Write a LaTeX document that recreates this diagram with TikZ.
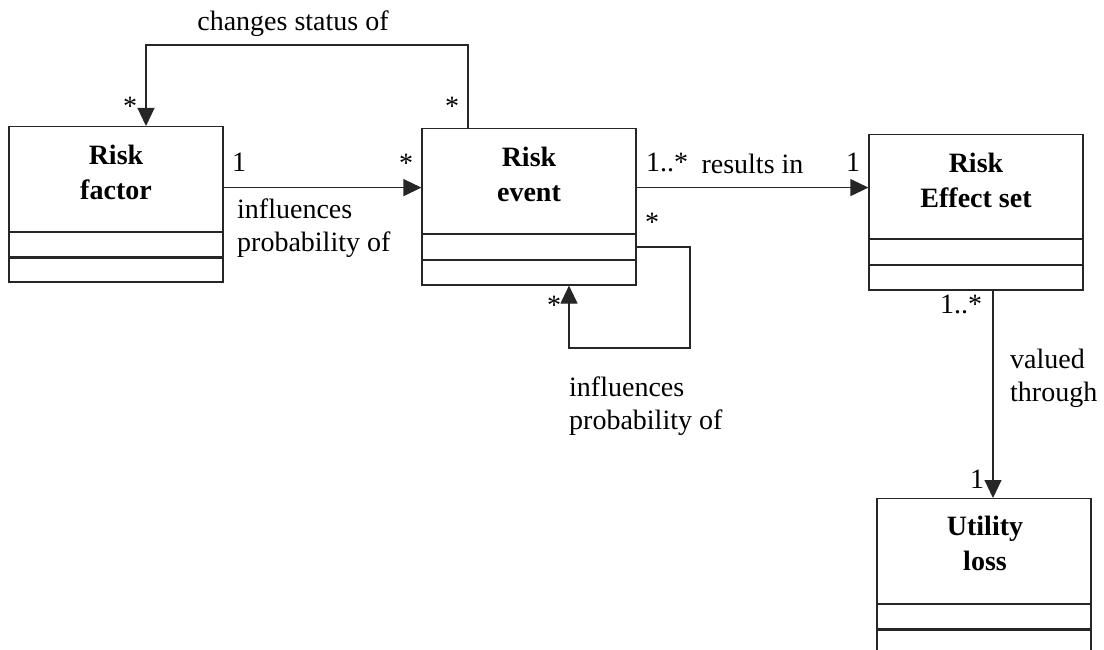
\documentclass[tikz,border=0pt]{standalone}
\usepackage{fontspec}
\setmainfont{Liberation Serif}
\usetikzlibrary{arrows.meta,calc}

\tikzset{
  cls/.style={draw=black!85, line width=1.2pt, rectangle, inner sep=0pt,
              minimum width=214pt, anchor=north},
  namebox/.style={cls, minimum height=105pt},
  compbox/.style={cls, minimum height=24pt},
  clsname/.style={font=\bfseries\fontsize{28}{35}\selectfont, align=center, inner sep=0pt},
  lbl/.style={font=\fontsize{28}{33}\selectfont, inner sep=0pt},
  mult/.style={lbl, anchor=base},
  arr/.style={draw=black!85, line width=1.2pt, -{Triangle[length=18pt,width=17pt]}},
}

\begin{document}
\begin{tikzpicture}[x=1pt, y=-1pt]
  \useasboundingbox (0,0) rectangle (1104,650);
  \clip (0,0) rectangle (1104,650);

  % Risk factor
  \node[namebox] (rf) at (116,126) {};
  \node[compbox] (rfa) at (rf.south) {};
  \node[compbox] (rfo) at (rfa.south) {};
  \node[clsname] (rfname) at (116,172) {Risk\\factor};

  % Risk event
  \node[namebox] (re) at (529,128) {};
  \node[compbox, minimum height=24.5pt] (rea) at (re.south) {};
  \node[compbox, minimum height=24.5pt] (reo) at (rea.south) {};
  \node[clsname] (rename) at (529,174) {Risk\\event};

  % Risk Effect set
  \node[namebox, minimum height=104pt] (rs) at (976,134) {};
  \node[compbox, minimum height=24.5pt] (rsa) at (rs.south) {};
  \node[compbox, minimum height=24.5pt] (rso) at (rsa.south) {};
  \node[clsname] (rsname) at (976,180) {Risk\\Effect set};

  % Utility loss
  \node[namebox] (ul) at (984,498) {};
  \node[compbox] (ula) at (ul.south) {};
  \node[compbox] (ulo) at (ula.south) {};
  \node[clsname] (ulname) at (985,543) {Utility\\loss};

  % Risk factor -> Risk event
  \draw[arr] ([yshift=-8.5pt]rf.east) -- ([yshift=-8.5pt]rf.east -| re.west);
  \node[mult] (m1) at (239,172) {1};
  \node[mult] (m2) at (406,173) {*};
  \node[lbl, align=left, anchor=north west] (l1) at (237,199) {influences\\probability of};

  % Risk event changes status of Risk factor
  \coordinate (cs1) at (468,45);
  \coordinate (cs2) at (146,45);
  \draw[arr] (cs1 |- re.north) -- (cs1) -- (cs2) -- (cs2 |- rf.north);
  \node[lbl] (l2) at (293,24) {changes status of};
  \node[mult] (m3) at (130,116) {*};
  \node[mult] (m4) at (452,116) {*};

  % Risk event -> Risk Effect set
  \draw[arr] ([yshift=-6.5pt]re.east) -- ([yshift=-6.5pt]re.east -| rs.west);
  \node[mult] (m5) at (667,172) {1..*};
  \node[lbl, anchor=base] (l3) at (752.5,174) {results in};
  \node[mult] (m6) at (853,172) {1};

  % Risk event self association
  \coordinate (sl1) at (690,348);
  \coordinate (sl2) at (569,348);
  \draw[arr] (rea.east) -- (rea.east -| sl1) -- (sl1) -- (sl2) -- (sl2 |- reo.south);
  \node[mult] (m7) at (652,232) {*};
  \node[mult] (m8) at (554,314) {*};
  \node[lbl, align=left, anchor=north west] (l4) at (569,377) {influences\\probability of};

  % Risk Effect set -> Utility loss
  \coordinate (vt) at (993,0);
  \draw[arr] (vt |- rso.south) -- (vt |- ul.north);
  \node[mult] (m9) at (961,313) {1..*};
  \node[lbl, align=left, anchor=north west] (l5) at (1010,349) {valued\\through};
  \node[mult] (m10) at (977,488) {1};
\end{tikzpicture}
\end{document}
